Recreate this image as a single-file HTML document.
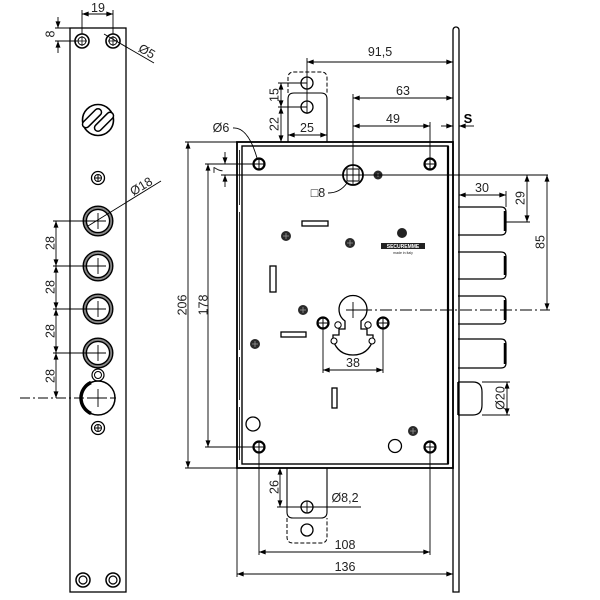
<!DOCTYPE html>
<html><head><meta charset="utf-8"><style>
html,body{margin:0;padding:0;background:#fff;}
svg{display:block;}
.l{stroke:#000;stroke-width:0.9;fill:none;}
.da{marker-start:url(#a);marker-end:url(#a);}
.de{marker-end:url(#a);}
.t{font-family:"Liberation Sans",sans-serif;font-size:12.5px;fill:#222;text-anchor:middle;}
</style></head><body>
<svg width="600" height="600" viewBox="0 0 600 600" xmlns="http://www.w3.org/2000/svg">
<defs>
<marker id="a" viewBox="0 0 8 6" refX="8" refY="3" markerWidth="7" markerHeight="5" markerUnits="userSpaceOnUse" orient="auto-start-reverse"><path d="M0,0 L8,3 L0,6z" fill="#000"/></marker>
</defs>
<rect width="600" height="600" fill="#fff"/>

<!-- ============ LEFT STRIP ============ -->
<rect x="70" y="28" width="56" height="564" fill="none" stroke="#000" stroke-width="1.3"/>
<g fill="none" stroke="#000">
<circle cx="82" cy="41" r="7" stroke-width="1.6"/><circle cx="82" cy="41" r="4" stroke-width="1"/>
<circle cx="113" cy="41" r="7" stroke-width="1.6"/><circle cx="113" cy="41" r="4" stroke-width="1"/>
<path d="M82,36V46M77,41H87M113,36V46M108,41H118" stroke-width="0.8"/>
<circle cx="83" cy="580" r="7" stroke-width="1.5"/><circle cx="83" cy="580" r="4" stroke-width="1.2"/>
<circle cx="113" cy="580" r="7" stroke-width="1.5"/><circle cx="113" cy="580" r="4" stroke-width="1.2"/>
<!-- logo -->
<circle cx="98" cy="120" r="15.5" stroke-width="1.6"/>
<g transform="rotate(-45 98 120)" fill="#fff" stroke-width="1.5">
<rect x="83" y="111" width="24" height="7" rx="3.5"/>
<rect x="89" y="122" width="24" height="7" rx="3.5"/>
</g>
<!-- screws -->
<circle cx="98" cy="178" r="6.5" stroke-width="1.3"/><circle cx="98" cy="178" r="3.5" stroke-width="1"/>
<path d="M98,175V181M95,178H101" stroke-width="1"/>
<circle cx="98" cy="428" r="6.5" stroke-width="1.3"/><circle cx="98" cy="428" r="3.5" stroke-width="1"/>
<path d="M98,425V431M95,428H101" stroke-width="1"/>
<!-- Ø18 holes -->
<g>
<circle cx="98" cy="221" r="13.2" stroke="#888" stroke-width="2.6"/><circle cx="98" cy="221" r="14.8" stroke-width="1.4"/><circle cx="98" cy="221" r="11.6" stroke-width="1.4"/>
<circle cx="98" cy="266" r="13.2" stroke="#888" stroke-width="2.6"/><circle cx="98" cy="266" r="14.8" stroke-width="1.4"/><circle cx="98" cy="266" r="11.6" stroke-width="1.4"/>
<circle cx="98" cy="309" r="13.2" stroke="#888" stroke-width="2.6"/><circle cx="98" cy="309" r="14.8" stroke-width="1.4"/><circle cx="98" cy="309" r="11.6" stroke-width="1.4"/>
<circle cx="98" cy="353" r="13.2" stroke="#888" stroke-width="2.6"/><circle cx="98" cy="353" r="14.8" stroke-width="1.4"/><circle cx="98" cy="353" r="11.6" stroke-width="1.4"/>
<path d="M98,213V229M90,221H106M98,258V274M90,266H106M98,301V317M90,309H106M98,345V361M90,353H106" stroke-width="0.9"/>
</g>
<circle cx="98" cy="375" r="6" stroke-width="1.2"/><circle cx="98" cy="375" r="3.5" stroke-width="1"/>
<circle cx="98" cy="398" r="17" stroke-width="1.5"/>
<path d="M91,382.5 A17,17 0 0 0 91,413.5" stroke-width="3.5"/>
<path d="M98,389V407M89,398H107" stroke-width="0.9"/>
</g>
<!-- left strip dims -->
<path class="l" d="M82,10V34M113,10V34"/>
<path class="l da" d="M82,14H113"/>
<text class="t" x="98" y="12">19</text>
<path class="l" d="M55,28H70M55,41H77"/>
<path class="l de" d="M58,17V28"/><path class="l de" d="M58,53V41"/>
<text class="t" transform="translate(50,34) rotate(-90)" dy="4.5">8</text>
<path class="l" d="M104,34L154,63"/>
<text class="t" transform="translate(147,51) rotate(30)" dy="4.5">Ø5</text>
<path class="l" d="M88,226L161,181"/>
<text class="t" transform="translate(141,186) rotate(-31)" dy="4.5">Ø18</text>
<path class="l" d="M53,221H98M53,266H98M53,309H98M53,353H98"/>
<path class="l da" d="M56,221V266"/><path class="l da" d="M56,266V309"/><path class="l da" d="M56,309V353"/><path class="l da" d="M56,353V398"/>
<path class="l" d="M20,398H116" stroke-dasharray="10,3,2,3"/>
<text class="t" transform="translate(50,243) rotate(-90)" dy="4.5">28</text>
<text class="t" transform="translate(50,287) rotate(-90)" dy="4.5">28</text>
<text class="t" transform="translate(50,331) rotate(-90)" dy="4.5">28</text>
<text class="t" transform="translate(50,376) rotate(-90)" dy="4.5">28</text>

<!-- ============ LOCK BODY ============ -->
<path d="M453,592V30A3,3 0 0 1 459,30V592Z" fill="none" stroke="#000" stroke-width="1.3"/>
<rect x="237" y="142" width="216" height="326" fill="none" stroke="#000" stroke-width="1.8"/>
<rect x="242" y="146" width="206" height="318" fill="none" stroke="#000" stroke-width="1.4"/>
<path d="M239.5,150V205M239.5,212V350M239.5,357V400M239.5,407V460" stroke="#000" stroke-width="0.8" fill="none"/>
<path d="M448,146V464" stroke="#000" stroke-width="2.2"/>

<!-- top strike -->
<path d="M288,93V78Q288,72 294,72H321Q327,72 327,78V93" fill="none" stroke="#000" stroke-width="1" stroke-dasharray="4,2"/>
<path d="M288,142V99Q288,93 294,93H321Q327,93 327,99V142" fill="none" stroke="#000" stroke-width="1.1"/>
<circle cx="307" cy="83" r="6" fill="#fff" stroke="#000" stroke-width="1.3"/>
<circle cx="307" cy="107" r="6" fill="#fff" stroke="#000" stroke-width="1.3"/>
<!-- bottom strike -->
<path d="M287,468V512Q287,518 293,518H321Q327,518 327,512V468" fill="none" stroke="#000" stroke-width="1.1"/>
<path d="M287,518V537Q287,543 293,543H321Q327,543 327,537V518" fill="none" stroke="#000" stroke-width="1" stroke-dasharray="4,2"/>
<circle cx="307" cy="507" r="6" fill="#fff" stroke="#000" stroke-width="1.3"/>
<path d="M307,501V513M301,507H313" stroke="#000" stroke-width="0.9"/>
<circle cx="307" cy="530" r="6" fill="none" stroke="#000" stroke-width="1.3"/>

<!-- corner holes -->
<g fill="#fff" stroke="#000">
<circle cx="259" cy="164" r="5.5" stroke-width="2.2"/><circle cx="430" cy="164" r="5.5" stroke-width="2.2"/>
<circle cx="259" cy="447" r="5.5" stroke-width="2.2"/><circle cx="430" cy="447" r="5.5" stroke-width="2.2"/>
<circle cx="323" cy="323" r="5.5" stroke-width="2.2"/><circle cx="383" cy="323" r="5.5" stroke-width="2.2"/>
</g>
<path d="M259,159V169M254,164H264M430,159V169M425,164H435M259,442V452M254,447H264M430,442V452M425,447H435M323,318V328M318,323H328M383,318V328M378,323H388" stroke="#000" stroke-width="1"/>

<!-- dot screws -->
<g fill="#2a2a2a">
<circle cx="378" cy="175" r="4.5"/><circle cx="286" cy="236" r="5"/><circle cx="350" cy="243" r="5"/>
<circle cx="303" cy="310" r="5"/><circle cx="255" cy="344" r="5"/><circle cx="413" cy="431" r="5"/>
</g>
<path d="M378,173V177M376,175H380M286,233V239M283,236H289M350,240V246M347,243H353M303,307V313M300,310H306M255,341V347M252,344H258M413,428V434M410,431H416" stroke="#999" stroke-width="0.8"/>

<!-- slots -->
<g fill="none" stroke="#000" stroke-width="1.3">
<rect x="302" y="221" width="26" height="5"/>
<rect x="270" y="266" width="6" height="26"/>
<rect x="281" y="332" width="25" height="5"/>
<rect x="332" y="388" width="5" height="20"/>
<circle cx="253" cy="424" r="7"/>
<circle cx="395" cy="446" r="6.5"/>
</g>

<!-- logo -->
<circle cx="402" cy="233" r="5" fill="#222"/>
<rect x="381" y="243" width="44" height="6" fill="#222"/>
<text x="403" y="248" font-family="Liberation Sans,sans-serif" font-size="5" font-weight="bold" fill="#fff" text-anchor="middle">SECUREMME</text>
<text x="403" y="254" font-family="Liberation Sans,sans-serif" font-size="3.5" fill="#222" text-anchor="middle">made in italy</text>

<!-- spindle -->
<circle cx="353" cy="175" r="10" fill="#fff" stroke="#000" stroke-width="1.8"/>
<rect x="347" y="169" width="12" height="12" fill="none" stroke="#000" stroke-width="1"/>
<path d="M353,166V184M344,175H362" stroke="#000" stroke-width="0.9"/>

<!-- cylinder -->
<path d="M345,321V329H339V335H333V340Q338,355 353,355Q368,355 373,340V335H367V329H361V321A14,14 0 1 0 345,321Z" fill="#fff" stroke="#000" stroke-width="1.3"/>
<circle cx="334" cy="341" r="3" fill="#fff" stroke="#000" stroke-width="1.1"/>
<circle cx="372" cy="341" r="3" fill="#fff" stroke="#000" stroke-width="1.1"/>
<circle cx="338" cy="325" r="3.2" fill="none" stroke="#000" stroke-width="1"/>
<circle cx="368" cy="325" r="3.2" fill="none" stroke="#000" stroke-width="1"/>
<path d="M353,302V318M346,310H360" stroke="#000" stroke-width="0.9"/>

<!-- bolts -->
<g fill="none" stroke="#000" stroke-width="1.2">
<path d="M458,207H501Q506,207 506,212V230Q506,235 501,235H458"/>
<path d="M458,252H501Q506,252 506,257V274Q506,279 501,279H458"/>
<path d="M458,296H501Q506,296 506,301V319Q506,324 501,324H458"/>
<path d="M458,339H501Q506,339 506,344V363Q506,368 501,368H458"/>
<path d="M458,382H473Q482,382 482,392V405Q482,415 473,415H458"/>
</g>
<path d="M505,211V231M505,256V275M505,300V320M505,343V364" stroke="#000" stroke-width="2.5"/>
<path d="M458,382V415" stroke="#000" stroke-width="1.5"/>

<!-- ============ DIMENSIONS ============ -->
<path class="l" d="M307,58V114"/>
<path class="l da" d="M307,62H453"/>
<text class="t" x="380" y="56">91,5</text>
<path class="l" d="M353,94V166"/>
<path class="l da" d="M353,98H453"/>
<text class="t" x="403" y="95">63</text>
<path class="l" d="M430,122V158"/>
<path class="l da" d="M353,126H430"/>
<text class="t" x="393" y="123">49</text>
<path class="l de" d="M441,126H453"/><path class="l de" d="M474,126H459"/>
<text x="468" y="123" font-family="Liberation Sans,sans-serif" font-size="13" font-weight="bold" fill="#000" text-anchor="middle">S</text>
<path class="l" d="M278,83H307M278,107H307M278,142H288"/>
<path class="l da" d="M281,83V107"/><path class="l da" d="M281,107V142"/>
<text class="t" transform="translate(274,95) rotate(-90)" dy="4.5">15</text>
<text class="t" transform="translate(274,124) rotate(-90)" dy="4.5">22</text>
<path class="l da" d="M288,135H327"/>
<text class="t" x="307" y="132">25</text>
<text class="t" x="221" y="132">Ø6</text>
<path class="l" d="M233,128Q248,127 257,158"/>
<text class="t" x="318" y="197">□8</text>
<path class="l" d="M328,193Q340,193 347,183"/>
<path class="l" d="M185,142H237M185,468H237"/>
<path class="l da" d="M188,142V468"/>
<text class="t" transform="translate(182,305) rotate(-90)" dy="4.5">206</text>
<path class="l" d="M205,164H259M205,447H259"/>
<path class="l da" d="M208,164V447"/>
<text class="t" transform="translate(203,305) rotate(-90)" dy="4.5">178</text>
<path class="l" d="M221,175H548"/>
<path class="l de" d="M225,152V164"/><path class="l de" d="M225,187V175"/>
<text class="t" transform="translate(218,170) rotate(-90)" dy="4.5">7</text>
<path class="l" d="M506,191V207"/>
<path class="l da" d="M459,195H506"/>
<text class="t" x="482" y="192">30</text>
<path class="l" d="M506,222H530"/>
<path class="l da" d="M527,175V222"/>
<text class="t" transform="translate(520,198) rotate(-90)" dy="4.5">29</text>
<path class="l da" d="M547,175V310"/>
<text class="t" transform="translate(540,242) rotate(-90)" dy="4.5">85</text>
<path class="l" d="M360,310H550" stroke-dasharray="12,3,2,3"/>
<path class="l" d="M482,382H510M482,415H510"/>
<path class="l da" d="M507,382V415"/>
<text class="t" transform="translate(500,398) rotate(-90)" dy="4.5">Ø20</text>
<path class="l" d="M323,329V373M383,329V373"/>
<path class="l da" d="M323,370H383"/>
<text class="t" x="353" y="367">38</text>
<path class="l" d="M277,507H361"/>
<path class="l da" d="M280,468V507"/>
<text class="t" transform="translate(274,487) rotate(-90)" dy="4.5">26</text>
<text class="t" x="345" y="502">Ø8,2</text>
<path class="l" d="M259,453V555M430,453V555"/>
<path class="l da" d="M259,552H430"/>
<text class="t" x="345" y="549">108</text>
<path class="l" d="M237,468V577"/>
<path class="l da" d="M237,574H453"/>
<text class="t" x="345" y="571">136</text>
</svg>
</body></html>
